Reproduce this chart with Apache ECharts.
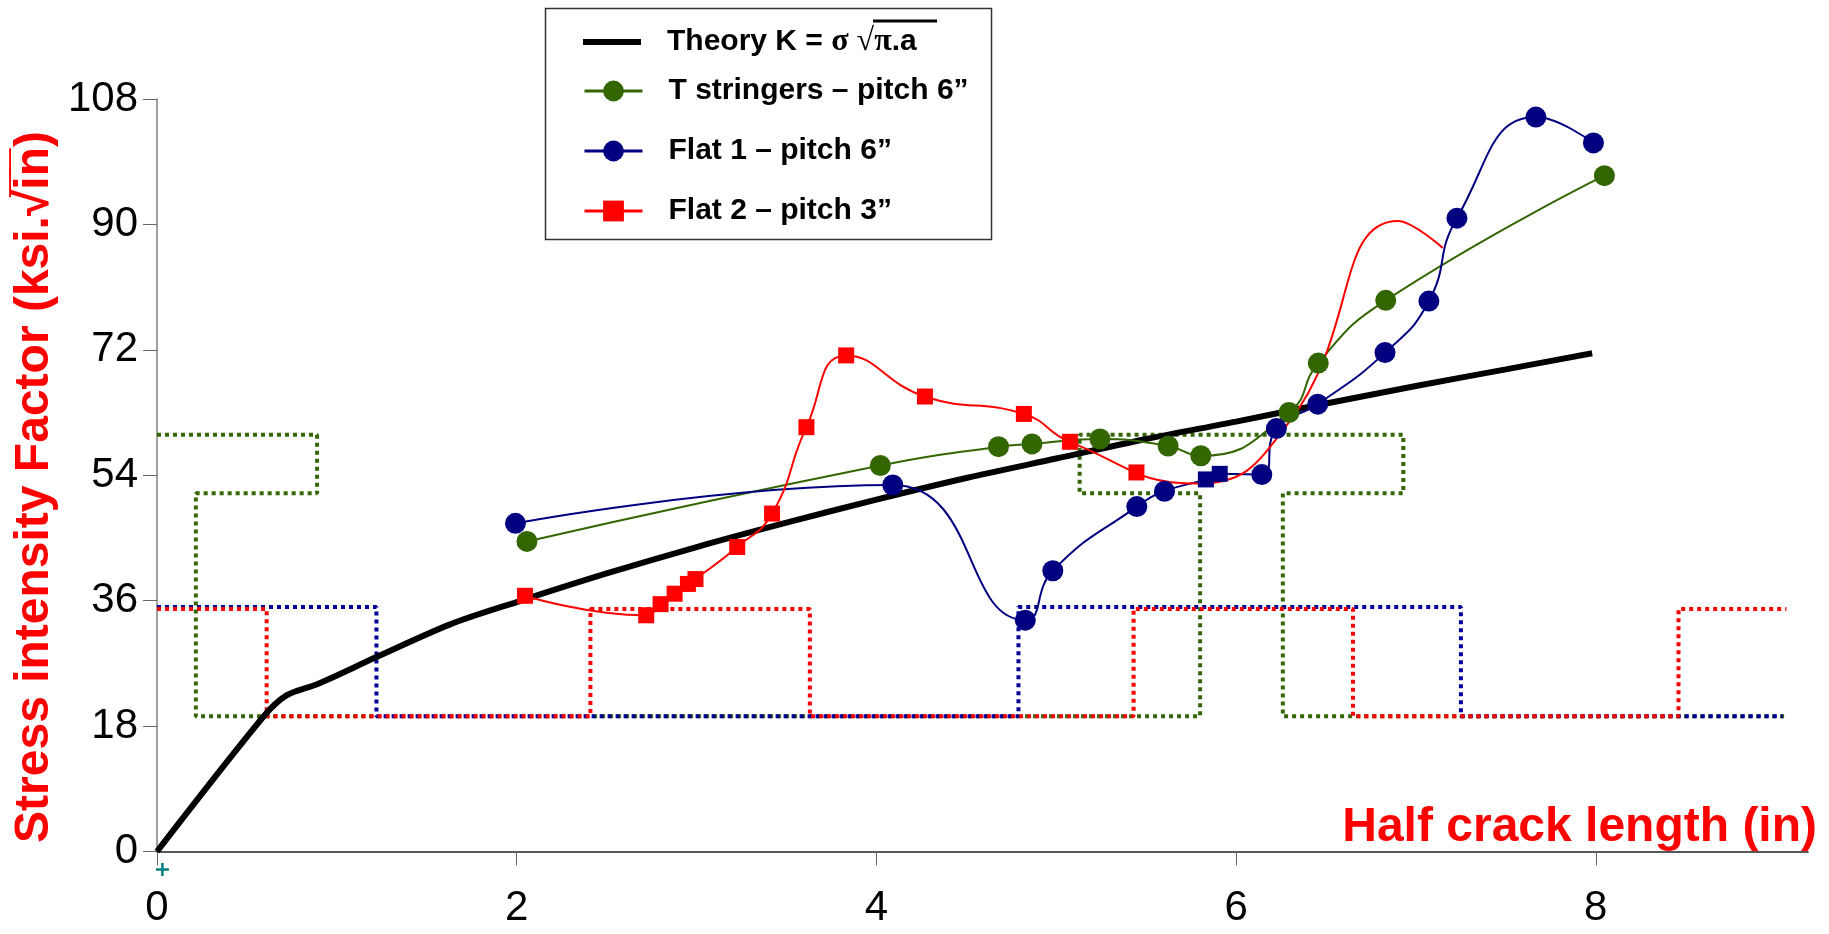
<!DOCTYPE html>
<html>
<head>
<meta charset="utf-8">
<title>Stress intensity factor vs half crack length</title>
<script src="https://cdn.jsdelivr.net/npm/echarts@6.0.0/dist/echarts.min.js"></script>
<style>
  html, body { margin: 0; padding: 0; background: #fff; }
  #chart { width: 1829px; height: 934px; }
</style>
</head>
<body>
<div id="chart"></div>
<script>
const FONT = '"Liberation Sans", Arial, sans-serif';

// axis ticks
const xTicks = [0, 2, 4, 6, 8];
const yMin = 0, yMax = 108, yStep = 18;

// names
const nTheory = 'Theory K = σ √π.a';
const nStringers = 'T stringers – pitch 6”';
const nFlat1 = 'Flat 1 – pitch 6”';
const nFlat2 = 'Flat 2 – pitch 3”';

// black theory curve
const theory = [
  [0, 0], [0.59, 19.3], [0.72, 22.4], [0.89, 24.0], [1.22, 27.9], [1.63, 32.6],
  [2, 35.8], [2.5, 39.9], [3, 43.7], [3.5, 47.2], [4, 50.5], [4.5, 53.6],
  [5, 56.4], [5.5, 59.2], [6, 61.7], [6.5, 64.3], [7, 66.8], [7.5, 69.2], [7.98, 71.5]
];

// T stringers - pitch 6" (green circles)
const tStringers = [
  [2.057, 44.5], [4.022, 55.4], [4.679, 58.1], [4.865, 58.5], [5.243, 59.2],
  [5.622, 58.2], [5.804, 56.8], [6.294, 63.0], [6.457, 70.1], [6.832, 79.1], [8.048, 97.0]
];

// Flat 1 - pitch 6" (navy circles, two navy squares on the same line)
const flat1 = [
  [1.993, 47.1], [4.091, 52.6], [4.828, 33.2], [4.981, 40.3], [5.448, 49.5],
  [5.602, 51.7], [6.143, 54.1], [6.224, 60.7], [6.454, 64.2], [6.828, 71.6],
  [7.072, 79.0], [7.228, 90.9], [7.667, 105.4], [7.987, 101.7]
];
const flat1Squares = [[5.832, 53.4], [5.909, 54.2]];

// Flat 2 - pitch 3" (red squares), curve keeps going past the last marker
const flat2 = [
  [2.046, 36.7], [2.72, 33.9], [2.80, 35.5], [2.878, 37.0], [2.952, 38.4],
  [2.994, 39.1], [3.226, 43.7], [3.42, 48.5], [3.611, 60.9], [3.832, 71.2],
  [4.27, 65.3], [4.82, 62.8], [5.076, 58.8]
];
const flat2CurveOnly = [[5.78, 52.8], [6.3, 61.8], [6.9, 90.5], [7.15, 86.6]];
const flat2Loose = [[5.446, 54.4]];

// dotted stringer outlines
const stepGreen = [
  [0, 59.8], [0.89, 59.8], [0.89, 51.4], [0.216, 51.4], [0.216, 19.4],
  [5.80, 19.4], [5.80, 51.4], [5.13, 51.4], [5.13, 59.8], [6.93, 59.8],
  [6.93, 51.4], [6.26, 51.4], [6.26, 19.4], [9.05, 19.4]
];
const stepBlue = [
  [0, 35.1], [1.22, 35.1], [1.22, 19.4], [4.79, 19.4], [4.79, 35.1],
  [7.25, 35.1], [7.25, 19.4], [9.04, 19.4]
];
const stepRed = [
  [0, 34.8], [0.61, 34.8], [0.61, 19.4], [2.41, 19.4], [2.41, 34.8],
  [3.63, 34.8], [3.63, 19.4], [5.43, 19.4], [5.43, 34.8], [6.65, 34.8],
  [6.65, 19.4], [8.46, 19.4], [8.46, 34.8], [9.06, 34.8]
];

// little teal cross under the origin
const originMark = [[0.03, -2.6]];

const GREEN = '#336600';
const NAVY = '#000080';
const RED = '#ff0000';

const chart = echarts.init(document.getElementById('chart'));

const byX = (a, b) => a.value[0] - b.value[0];
const flat1Data = flat1.map(p => ({ value: p }))
  .concat(flat1Squares.map(p => ({ value: p, symbol: 'rect', symbolSize: 16 })))
  .sort(byX);
const flat2Data = flat2.map(p => ({ value: p }))
  .concat(flat2CurveOnly.map(p => ({ value: p, symbol: 'none' })));

const stepSeries = (data, color) => ({
  type: 'line',
  data: data,
  symbol: 'none',
  silent: true,
  lineStyle: { color: color, width: 4, type: [4, 4], cap: 'butt' }
});

const legendText = {
  fontSize: 30,
  fontWeight: 'bold',
  fontFamily: FONT,
  color: '#000',
  rich: {
    g: { width: 21 },
    t: { fontSize: 30, fontWeight: 'bold', fontFamily: FONT, color: '#000' },
    s: { fontSize: 32, fontFamily: '"Liberation Serif", "Times New Roman", serif', color: '#000' }
  }
};

chart.setOption({
  animation: false,
  backgroundColor: '#fff',
  grid: { left: 157, right: 21, top: 99, bottom: 82.5, containLabel: false, outerBoundsMode: 'none' },
  legend: [
    {
      data: [{ name: nTheory, icon: 'rect' }],
      left: 583, top: 26, padding: 0,
      itemWidth: 58, itemHeight: 6,
      selectedMode: false,
      itemStyle: { color: '#000' },
      textStyle: legendText,
      formatter: () => '{g|}{t|Theory K = }{s|σ √π}{t|.a}'
    },
    {
      data: [nStringers, nFlat1, nFlat2],
      orient: 'vertical',
      left: 583, top: 76, padding: 0, itemGap: 30,
      itemWidth: 58, itemHeight: 26,
      selectedMode: false,
      lineStyle: { width: 3 },
      textStyle: legendText,
      formatter: name => '{g|}{t|' + name + '}'
    }
  ],
  xAxis: {
    type: 'value',
    min: 0, max: 9.18,
    name: 'Half crack length (in)',
    nameLocation: 'end',
    nameGap: 9,
    nameTextStyle: {
      color: RED, fontSize: 48, fontWeight: 'bold', fontFamily: FONT,
      align: 'right', verticalAlign: 'bottom', padding: 0
    },
    splitLine: { show: false },
    axisLine: { show: true, onZero: false, lineStyle: { color: '#222', width: 1.5 } },
    axisTick: { show: true, length: 14, customValues: xTicks, lineStyle: { color: '#666', width: 1 } },
    axisLabel: { customValues: xTicks, margin: 36, fontSize: 42, color: '#000', fontFamily: FONT }
  },
  yAxis: {
    type: 'value',
    min: yMin, max: yMax, interval: yStep,
    splitLine: { show: false },
    axisLine: { show: true, onZero: false, lineStyle: { color: '#808080', width: 1.5 } },
    axisTick: { show: true, length: 14, lineStyle: { color: '#666', width: 1 } },
    axisLabel: { margin: 19, fontSize: 42, color: '#000', fontFamily: FONT }
  },
  graphic: [
    {
      type: 'rect',
      shape: { x: 545.5, y: 8.5, width: 446, height: 231 },
      style: { fill: 'none', stroke: '#333', lineWidth: 1.5 },
      z: 10
    },
    {
      // overline of the square root in the legend
      type: 'line',
      shape: { x1: 873, y1: 21, x2: 937, y2: 21 },
      style: { stroke: '#000', lineWidth: 3 },
      z: 10
    },
    {
      type: 'text',
      x: 35, y: 487,
      rotation: Math.PI / 2,
      style: {
        text: 'Stress intensity Factor (ksi.√i\u0305n\u0305)',
        fill: RED,
        fontSize: 48, fontWeight: 'bold', fontFamily: FONT,
        align: 'center', verticalAlign: 'middle'
      }
    }
  ],
  series: [
    stepSeries(stepGreen, GREEN),
    stepSeries(stepBlue, '#000099'),
    stepSeries(stepRed, RED),
    {
      name: nTheory,
      type: 'line',
      data: theory,
      smooth: 0.3,
      symbol: 'none',
      lineStyle: { color: '#000', width: 6 },
      itemStyle: { color: '#000' }
    },
    {
      name: nStringers,
      type: 'line',
      data: tStringers,
      smooth: 0.5,
      symbol: 'circle', symbolSize: 21,
      lineStyle: { color: GREEN, width: 2 },
      itemStyle: { color: GREEN }
    },
    {
      name: nFlat1,
      type: 'line',
      data: flat1Data,
      smooth: 0.5,
      symbol: 'circle', symbolSize: 21,
      lineStyle: { color: NAVY, width: 2 },
      itemStyle: { color: NAVY }
    },
    {
      name: nFlat2,
      type: 'line',
      data: flat2Data,
      smooth: 0.5,
      symbol: 'rect', symbolSize: 16,
      lineStyle: { color: RED, width: 2 },
      itemStyle: { color: RED }
    },
    {
      type: 'scatter',
      data: flat2Loose,
      symbol: 'rect', symbolSize: 16,
      itemStyle: { color: RED, opacity: 1 }
    },
    {
      type: 'scatter',
      data: originMark,
      clip: false,
      symbol: 'path://M5,0h2.4v5h5v2.4H7.4v5H5V7.4H0V5h5z',
      symbolSize: 13,
      itemStyle: { color: '#008080', opacity: 1 }
    }
  ]
});
</script>
</body>
</html>
